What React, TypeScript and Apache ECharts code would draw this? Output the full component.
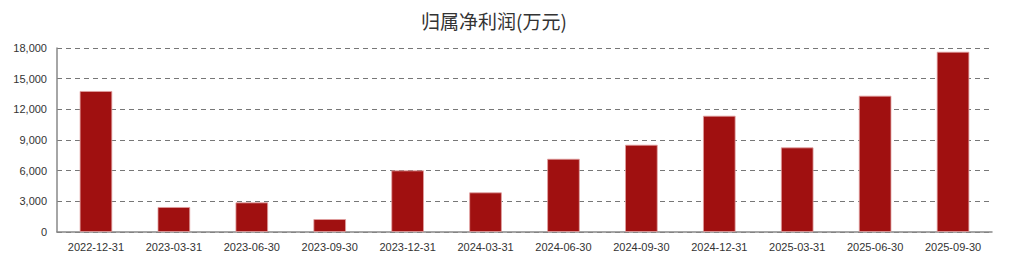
import React, { useEffect, useRef } from "react";
import * as echarts from "echarts";

const categories = [
  "2022-12-31", "2023-03-31", "2023-06-30", "2023-09-30",
  "2023-12-31", "2024-03-31", "2024-06-30", "2024-09-30",
  "2024-12-31", "2025-03-31", "2025-06-30", "2025-09-30",
];
const netProfit = [13800, 2450, 2900, 1270, 6030, 3880, 7170, 8540, 11380, 8280, 13340, 17640];
const titleText = "归属净利润(万元)";

export default function App() {
  const ref = useRef<HTMLDivElement>(null);
  useEffect(() => {
    if (!ref.current) return;
    const chart = echarts.init(ref.current, null, { renderer: "svg" });
    chart.setOption({
      animation: false,
      backgroundColor: "#ffffff",
      title: {
        text: titleText,
        left: 489,
        textAlign: "center",
        top: 6,
        textStyle: {
          fontFamily: "Noto Sans CJK SC",
          fontSize: 19,
          fontWeight: "normal",
          color: "#333",
        },
      },
      grid: { left: 57, right: 32, top: 48, bottom: 43 },
      xAxis: {
        type: "category",
        data: categories,
        axisLine: { lineStyle: { color: "#888", width: 1.5 } },
        axisTick: { show: false },
        axisLabel: {
          fontFamily: "Liberation Sans, Arial",
          fontSize: 11,
          color: "#333",
          margin: 9,
        },
      },
      yAxis: {
        type: "value",
        min: 0,
        max: 18000,
        interval: 3000,
        axisLine: { show: true, lineStyle: { color: "#888", width: 1.5 } },
        axisTick: { show: false },
        axisLabel: {
          fontFamily: "Liberation Sans, Arial",
          fontSize: 11,
          color: "#333",
          margin: 10,
        },
        splitLine: {
          show: true,
          lineStyle: { color: "#777", type: [5, 4], width: 1 },
        },
      },
      series: [
        {
          type: "bar",
          data: netProfit,
          barWidth: "42%",
          itemStyle: {
            color: "#a01010",
            borderColor: "rgba(225,160,160,0.8)",
            borderWidth: 1,
          },
        },
      ],
    });
    return () => chart.dispose();
  }, []);
  return (
    <div
      ref={ref}
      style={{ position: "fixed", left: 0, top: 0, width: 1024, height: 275 }}
    />
  );
}
